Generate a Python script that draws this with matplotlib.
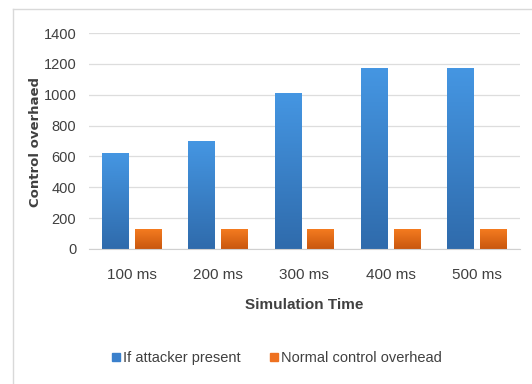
import numpy as np
import matplotlib
matplotlib.use("Agg")
import matplotlib.pyplot as plt
from matplotlib.colors import LinearSegmentedColormap
from matplotlib.lines import Line2D

categories = ["100 ms", "200 ms", "300 ms", "400 ms", "500 ms"]
attacker = [620, 700, 1010, 1170, 1170]
normal = [125, 125, 125, 125, 125]
yticks = [0, 200, 400, 600, 800, 1000, 1200, 1400]

narrow = ["Liberation Sans Narrow", "Liberation Sans", "DejaVu Sans"]

fig = plt.figure(figsize=(5.32, 3.84), dpi=100, facecolor="white")
ax = fig.add_axes([0.167, 0.352, 0.810, 0.562])

x = np.arange(len(categories))
w = 0.31
gap = 0.035
b1 = ax.bar(x - w / 2 - gap, attacker, w, color="#3F88D6", zorder=2)
b2 = ax.bar(x + w / 2 + gap, normal, w, color="#EE7120", zorder=2)

# gradient fill like the office chart
blue_cm = LinearSegmentedColormap.from_list("b", ["#2F6BAC", "#4596E2"])
orange_cm = LinearSegmentedColormap.from_list("o", ["#C9570E", "#F47B20"])
grad = np.linspace(0, 1, 100).reshape(-1, 1)
for bars, cm in [(b1, blue_cm), (b2, orange_cm)]:
    for p in bars:
        bx, by = p.get_x(), p.get_y()
        bw, bh = p.get_width(), p.get_height()
        ax.imshow(grad, extent=[bx, bx + bw, by, by + bh], origin="lower",
                  cmap=cm, aspect="auto", zorder=3)

ax.set_xlim(-0.5, len(categories) - 0.5)
ax.set_ylim(0, 1400)
ax.set_yticks(yticks)
ax.set_xticks(x)
ax.set_xticklabels(categories, fontfamily=narrow, fontsize=11, color="#404040")
ax.set_yticklabels([str(v) for v in yticks], fontfamily=narrow, fontsize=10.5, color="#404040")
ax.tick_params(axis="both", length=0)
ax.tick_params(axis="y", pad=9)
ax.tick_params(axis="x", pad=14)
ax.grid(axis="y", color="#DDDDDD", linewidth=0.9, zorder=0)
ax.set_axisbelow(True)
for s in ["top", "right", "left"]:
    ax.spines[s].set_visible(False)
ax.spines["bottom"].set_color("#D0D0D0")
ax.spines["bottom"].set_zorder(4)

ax.set_xlabel("Simulation Time", fontfamily=narrow, fontsize=11, fontweight="bold",
              color="#404040", labelpad=11)
fig.text(0.066, 0.63, "Control overhaed", rotation=90, ha="center", va="center",
         fontsize=9.5, fontweight="bold", color="#404040")

handles = [Line2D([], [], marker="s", linestyle="", color="#3A80CC", markersize=5.5),
           Line2D([], [], marker="s", linestyle="", color="#EE7120", markersize=5.5)]
fig.legend(handles, ["If attacker present", "Normal control overhead"],
           loc="center", bbox_to_anchor=(0.52, 0.068), ncol=2, frameon=False,
           handlelength=0.6, handletextpad=0.2, columnspacing=2.0,
           prop={"family": narrow, "size": 10.5}, labelcolor="#404040")

# chart area border (cropped on right and bottom)
fig.add_artist(Line2D([0.024, 0.024], [0.0, 0.977], transform=fig.transFigure,
                      color="#D9D9D9", linewidth=1))
fig.add_artist(Line2D([0.024, 1.0], [0.977, 0.977], transform=fig.transFigure,
                      color="#D9D9D9", linewidth=1))

fig.savefig("out.png", dpi=100)
